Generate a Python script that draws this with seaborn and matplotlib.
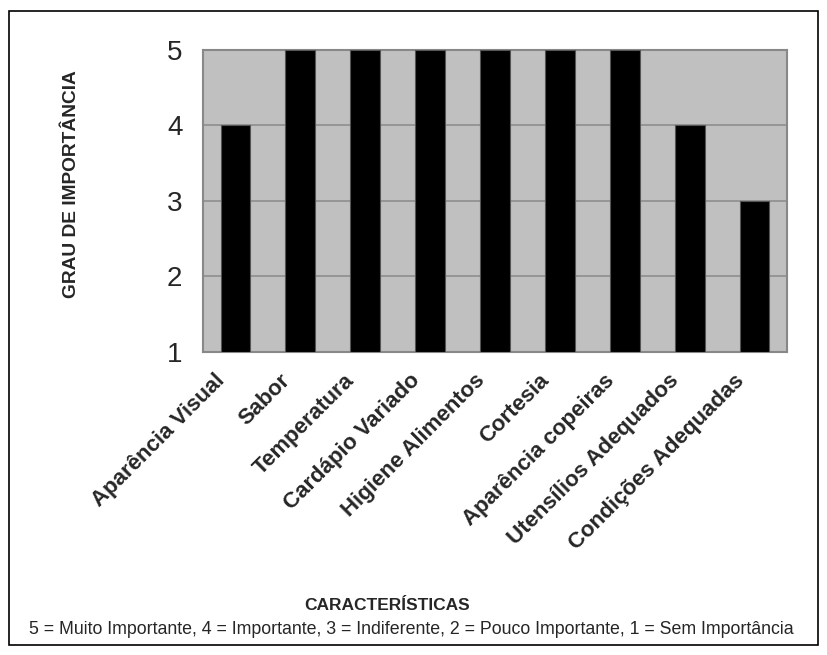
import matplotlib
matplotlib.use("Agg")
import matplotlib.pyplot as plt
import matplotlib.transforms as mtrans
import seaborn as sns
import pandas as pd

caracteristicas = ['Aparência Visual', 'Sabor', 'Temperatura', 'Cardápio Variado',
                   'Higiene Alimentos', 'Cortesia', 'Aparência copeiras',
                   'Utensílios Adequados', 'Condições Adequadas']
grau = [4, 5, 5, 5, 5, 5, 5, 4, 3]
niveis = [1, 2, 3, 4, 5]
legenda = ('5 = Muito Importante, 4 = Importante, 3 = Indiferente, '
           '2 = Pouco Importante, 1 = Sem Importância')

df = pd.DataFrame({'car': caracteristicas, 'grau': grau})
base = min(niveis)
df['altura'] = df['grau'] - base

sns.set_style("white")
plt.rcParams['font.family'] = ['Liberation Sans', 'DejaVu Sans']

fig = plt.figure(figsize=(8.27, 6.55), dpi=100)
ax = fig.add_axes([0.2455, 0.4626, 0.706, 0.4611])
ax.set_facecolor('#c0c0c0')

sns.barplot(data=df, x='car', y='altura', color='black', width=0.46,
            edgecolor='#555555', linewidth=0.8, saturation=1, ax=ax, zorder=3)
for p in ax.patches:
    p.set_y(base)  # barras começam no nível 1

ax.set_ylim(base, max(niveis))
ax.set_xlim(-0.5, len(caracteristicas) - 0.5)
ax.set_yticks(niveis)
ax.set_yticklabels([str(n) for n in niveis], fontsize=20)
ax.yaxis.grid(True, color='#8e8e8e', linewidth=1.2, zorder=1)
ax.set_axisbelow(True)

# marcas entre categorias no eixo x
ax.set_xticks([i + 0.5 for i in range(len(caracteristicas) - 1)], minor=True)
ax.tick_params(axis='x', which='minor', length=4, color='#999999', width=1)
ax.tick_params(axis='x', which='major', length=0, pad=13)
ax.tick_params(axis='y', length=5.8, color='#999999', width=1, pad=9)
ax.set_xticks(range(len(caracteristicas)))
ax.set_xticklabels(caracteristicas, rotation=45, ha='right', rotation_mode='anchor',
                   fontsize=16, fontweight='bold')
desloc = mtrans.ScaledTranslation(-0.21, 0, fig.dpi_scale_trans)
for lb in ax.get_xticklabels():
    lb.set_transform(lb.get_transform() + desloc)

for s in ax.spines.values():
    s.set_color('#888888')
    s.set_linewidth(1.5)
    s.set_visible(True)

ax.set_xlabel('')
ax.set_ylabel('')
fig.text(0.0865, 0.719, 'GRAU DE IMPORTÂNCIA', rotation=90, ha='center', va='center',
         fontsize=13.8, fontweight='bold')
fig.text(0.468, 0.076, 'CARACTERÍSTICAS', ha='center', va='center',
         fontsize=12.5, fontweight='bold')
fig.text(0.497, 0.039, legenda, ha='center', va='center', fontsize=12.8)

# moldura externa
frame = plt.Rectangle((0.011, 0.015), 0.978, 0.968, transform=fig.transFigure,
                      fill=False, edgecolor='black', linewidth=1.2)
fig.patches.append(frame)

fig.savefig('out.png', dpi=100)
